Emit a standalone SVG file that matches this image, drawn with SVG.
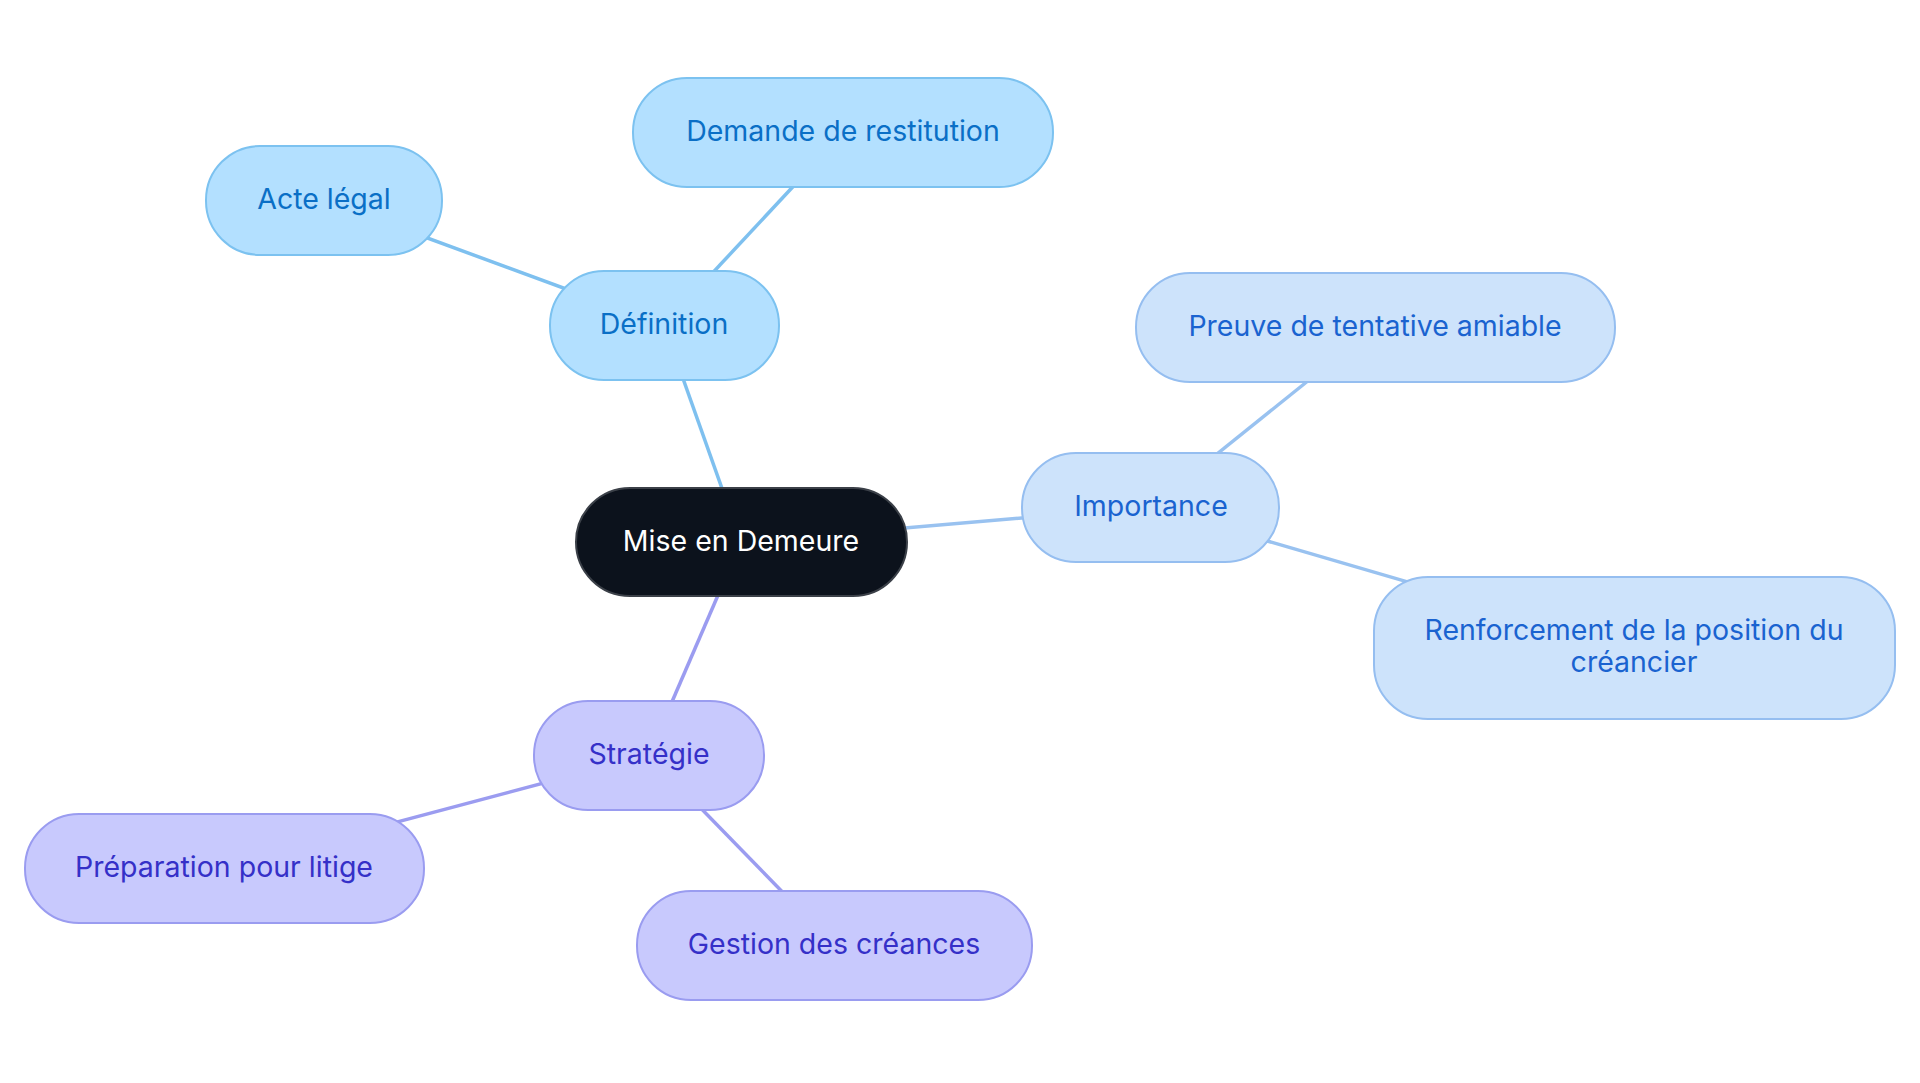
<svg xmlns="http://www.w3.org/2000/svg" width="1920" height="1083" viewBox="0 0 1920 1083">
<style>
text{font-family:Inter,"Noto Sans","Liberation Sans",sans-serif;font-size:28.5px;text-anchor:middle;dominant-baseline:central}
.c0 rect{fill:#0c121c;stroke:#3b4048;stroke-width:2}
.c0 text{fill:#ffffff}
.c1 rect{fill:#b3e0ff;stroke:#7cc2f0;stroke-width:2}
.c1 text{fill:#0a6fc6}
.c2 rect{fill:#cde3fb;stroke:#95bef0;stroke-width:2}
.c2 text{fill:#1a63d0}
.c3 rect{fill:#c8c9fd;stroke:#9a9cf0;stroke-width:2}
.c3 text{fill:#3530c8}
.l1{stroke:#7ec0ef;stroke-width:3.5}
.l2{stroke:#99c2f0;stroke-width:3.5}
.l3{stroke:#9b9cf0;stroke-width:3.5}
</style>
<rect width="1920" height="1083" fill="#ffffff"/>
<g id="connectors" fill="none">
<line class="l1" x1="741" y1="542" x2="664" y2="325"/>
<line class="l1" x1="664" y1="325" x2="324" y2="200"/>
<line class="l1" x1="664" y1="325" x2="843" y2="133"/>
<line class="l2" x1="741" y1="542" x2="1151" y2="507"/>
<line class="l2" x1="1151" y1="507" x2="1375" y2="327"/>
<line class="l2" x1="1151" y1="507" x2="1634" y2="648"/>
<line class="l3" x1="741" y1="542" x2="649" y2="755"/>
<line class="l3" x1="649" y1="755" x2="224" y2="868"/>
<line class="l3" x1="649" y1="755" x2="834" y2="945"/>
</g>
<g id="node-central" class="c0"><rect x="576" y="488" width="331" height="108" rx="54"/><text x="741" y="540">Mise en Demeure</text></g>
<g id="node-definition" class="c1"><rect x="550" y="271" width="229" height="109" rx="54"/><text x="664" y="323">Définition</text></g>
<g id="node-acte" class="c1"><rect x="206" y="146" width="236" height="109" rx="54"/><text x="324" y="198">Acte légal</text></g>
<g id="node-demande" class="c1"><rect x="633" y="78" width="420" height="109" rx="54"/><text x="843" y="130">Demande de restitution</text></g>
<g id="node-importance" class="c2"><rect x="1022" y="453" width="257" height="109" rx="54"/><text x="1151" y="505">Importance</text></g>
<g id="node-preuve" class="c2"><rect x="1136" y="273" width="479" height="109" rx="54"/><text x="1375" y="325">Preuve de tentative amiable</text></g>
<g id="node-renforcement" class="c2"><rect x="1374" y="577" width="521" height="142" rx="54"/><text x="1634" y="629">Renforcement de la position du</text><text x="1634" y="661">créancier</text></g>
<g id="node-strategie" class="c3"><rect x="534" y="701" width="230" height="109" rx="54"/><text x="649" y="753">Stratégie</text></g>
<g id="node-preparation" class="c3"><rect x="25" y="814" width="399" height="109" rx="54"/><text x="224" y="866">Préparation pour litige</text></g>
<g id="node-gestion" class="c3"><rect x="637" y="891" width="395" height="109" rx="54"/><text x="834" y="943">Gestion des créances</text></g>
</svg>
